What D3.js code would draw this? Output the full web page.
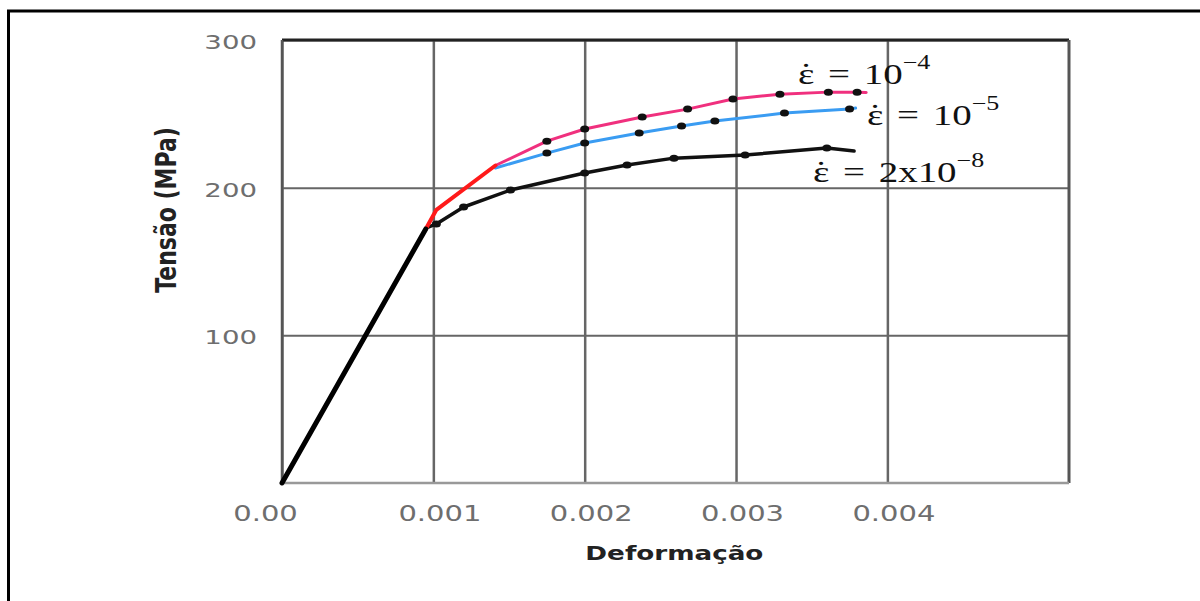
<!DOCTYPE html>
<html>
<head>
<meta charset="utf-8">
<script src="https://cdn.jsdelivr.net/npm/d3@7"></script>
<style>
  body { margin: 0; background: #fff; }
  svg { display: block; }
</style>
</head>
<body>
<svg id="vis" width="1200" height="601"></svg>
<script>
// strain (mm/mm) and stress (MPa)
var elasticStrain = [0, 0.00095];
var elasticStress = [0, 172];

// eps-dot = 1e-4 : first part is drawn in red, the rest in pink
var redStrain = [0.00095, 0.00102, 0.00141];
var redStress = [172, 185, 215];
var pinkStrain = [0.00141, 0.00175, 0.00200, 0.00238, 0.00268, 0.00298, 0.00329, 0.00361, 0.00380, 0.00386];
var pinkStress = [215, 231.5, 239.7, 247.8, 253.2, 260.0, 263.3, 264.7, 264.7, 264.5];

// eps-dot = 1e-5
var blueStrain = [0.00141, 0.00175, 0.00200, 0.00236, 0.00264, 0.00286, 0.00332, 0.00375, 0.00379];
var blueStress = [213.3, 223.4, 230.2, 237.0, 241.7, 245.1, 250.5, 253.2, 253.9];

// eps-dot = 2e-8
var blackStrain = [0.00095, 0.00102, 0.00120, 0.00151, 0.00200, 0.00228, 0.00259, 0.00306, 0.00360, 0.00378];
var blackStress = [172.6, 175.4, 186.9, 198.4, 209.9, 215.3, 220.0, 222.1, 226.8, 224.8];

var xTicks = [0, 0.001, 0.002, 0.003, 0.004];
var xTickLabels = ["0.00", "0.001", "0.002", "0.003", "0.004"];
var yTicks = [100, 200, 300];

var labels = [
    { base: "10", exp: "\u22124" },
    { base: "10", exp: "\u22125" },
    { base: "2x10", exp: "\u22128" }
];

var svg = d3.select("#vis");
var stretch = 1.38; // the source picture is stretched sideways

var x = d3.scaleLinear().domain([0, 0.0052]).range([282, 1069]);
var y = d3.scaleLinear().domain([0, 300]).range([483, 40]);

// outer frame (only top and left show)
svg.append("line").attr("x1", 7).attr("x2", 1200).attr("y1", 11).attr("y2", 11)
    .attr("stroke", "#000").attr("stroke-width", 3);
svg.append("line").attr("x1", 8.5).attr("x2", 8.5).attr("y1", 10).attr("y2", 601)
    .attr("stroke", "#000").attr("stroke-width", 3);

// grid via axes
var xGrid = svg.append("g")
    .attr("transform", `translate(0 ${y(0)})`)
    .call(d3.axisBottom(x).tickValues(xTicks).tickSize(-(y(0) - y(300)))
        .tickFormat((d, i) => xTickLabels[i]).tickPadding(0));
xGrid.select(".domain").remove();
xGrid.selectAll("line").attr("stroke", "#666").attr("stroke-width", 2.5);
xGrid.selectAll("text")
    .attr("y", 38).attr("dy", 0)
    .attr("x", (d, i) => i === 0 ? -17 / stretch : 6 / stretch)
    .attr("transform", `scale(${stretch},1)`)
    .attr("font-family", "DejaVu Sans").attr("font-size", 21)
    .attr("fill", "#6e6e6e");

var yGrid = svg.append("g")
    .attr("transform", `translate(${x(0)} 0)`)
    .call(d3.axisLeft(y).tickValues(yTicks).tickSize(-(x(0.0052) - x(0))).tickPadding(0));
yGrid.select(".domain").remove();
yGrid.selectAll("line").attr("stroke", "#666").attr("stroke-width", 2);
yGrid.selectAll("text")
    .attr("x", -25 / stretch).attr("dy", "0.42em")
    .attr("transform", `scale(${stretch},1)`)
    .attr("font-family", "DejaVu Sans").attr("font-size", 20)
    .attr("fill", "#6e6e6e");

// plot frame
svg.append("line").attr("x1", x(0)).attr("x2", x(0.0052)).attr("y1", y(300)).attr("y2", y(300))
    .attr("stroke", "#222").attr("stroke-width", 3);
svg.append("line").attr("x1", x(0.0052)).attr("x2", x(0.0052)).attr("y1", y(300)).attr("y2", y(0))
    .attr("stroke", "#555").attr("stroke-width", 3);
svg.append("line").attr("x1", x(0)).attr("x2", x(0.0052)).attr("y1", y(0)).attr("y2", y(0))
    .attr("stroke", "#999").attr("stroke-width", 2.5);
svg.append("line").attr("x1", x(0)).attr("x2", x(0)).attr("y1", y(300)).attr("y2", y(0))
    .attr("stroke", "#555").attr("stroke-width", 2.5);

// curves
var line = d3.line().x(d => x(d[0])).y(d => y(d[1])).curve(d3.curveLinear);

function drawCurve(xs, ys, color, width) {
    var pts = d3.zip(xs, ys);
    svg.append("path").datum(pts)
        .attr("d", line)
        .attr("fill", "none")
        .attr("stroke", color)
        .attr("stroke-width", width)
        .attr("stroke-linejoin", "round")
        .attr("stroke-linecap", "round");
}

function drawMarkers(xs, ys) {
    var pts = d3.zip(xs, ys).slice(1, -1);
    svg.append("g").selectAll("ellipse").data(pts).enter().append("ellipse")
        .attr("cx", d => x(d[0]))
        .attr("cy", d => y(d[1]))
        .attr("rx", 4.5).attr("ry", 3.5)
        .attr("fill", "#111");
}

drawCurve(blackStrain, blackStress, "#111", 3.5);
drawCurve(blueStrain, blueStress, "#3a9cf2", 3);
drawCurve(pinkStrain, pinkStress, "#f0307e", 3);
drawCurve(redStrain, redStress, "#ff1a1a", 4);
drawCurve(elasticStrain, elasticStress, "#000", 5);
drawMarkers(blackStrain, blackStress);
drawMarkers(blueStrain, blueStress);
drawMarkers(pinkStrain, pinkStress);

// curve labels
var labelPos = [[798, 84], [867, 125], [813, 182]];
labels.forEach((l, i) => {
    var t = svg.append("text")
        .attr("transform", `translate(${labelPos[i][0]} ${labelPos[i][1]}) scale(1.3,1)`)
        .attr("font-family", "Liberation Serif")
        .attr("font-size", 30)
        .attr("fill", "#111");
    t.append("tspan").text("\u03b5");
    t.append("tspan").text("\u02d9").attr("dx", -11.5);
    t.append("tspan").text(" = " + l.base).attr("dx", 1.5).attr("word-spacing", 3);
    t.append("tspan").text(l.exp).attr("font-size", 20).attr("dy", -15);
});

// axis titles
svg.append("text")
    .attr("transform", `translate(${(x(0.001) + x(0.004)) / 2 + 14} 560) scale(${stretch},1)`)
    .attr("text-anchor", "middle")
    .attr("font-family", "DejaVu Sans").attr("font-weight", "bold")
    .attr("font-size", 19).attr("fill", "#222")
    .text("Deformação");

svg.append("text")
    .attr("transform", `translate(176 210) rotate(-90) scale(1,1.25)`)
    .attr("text-anchor", "middle")
    .attr("font-family", "DejaVu Sans").attr("font-weight", "bold")
    .attr("font-size", 22).attr("fill", "#222")
    .text("Tensão (MPa)");
</script>
</body>
</html>
